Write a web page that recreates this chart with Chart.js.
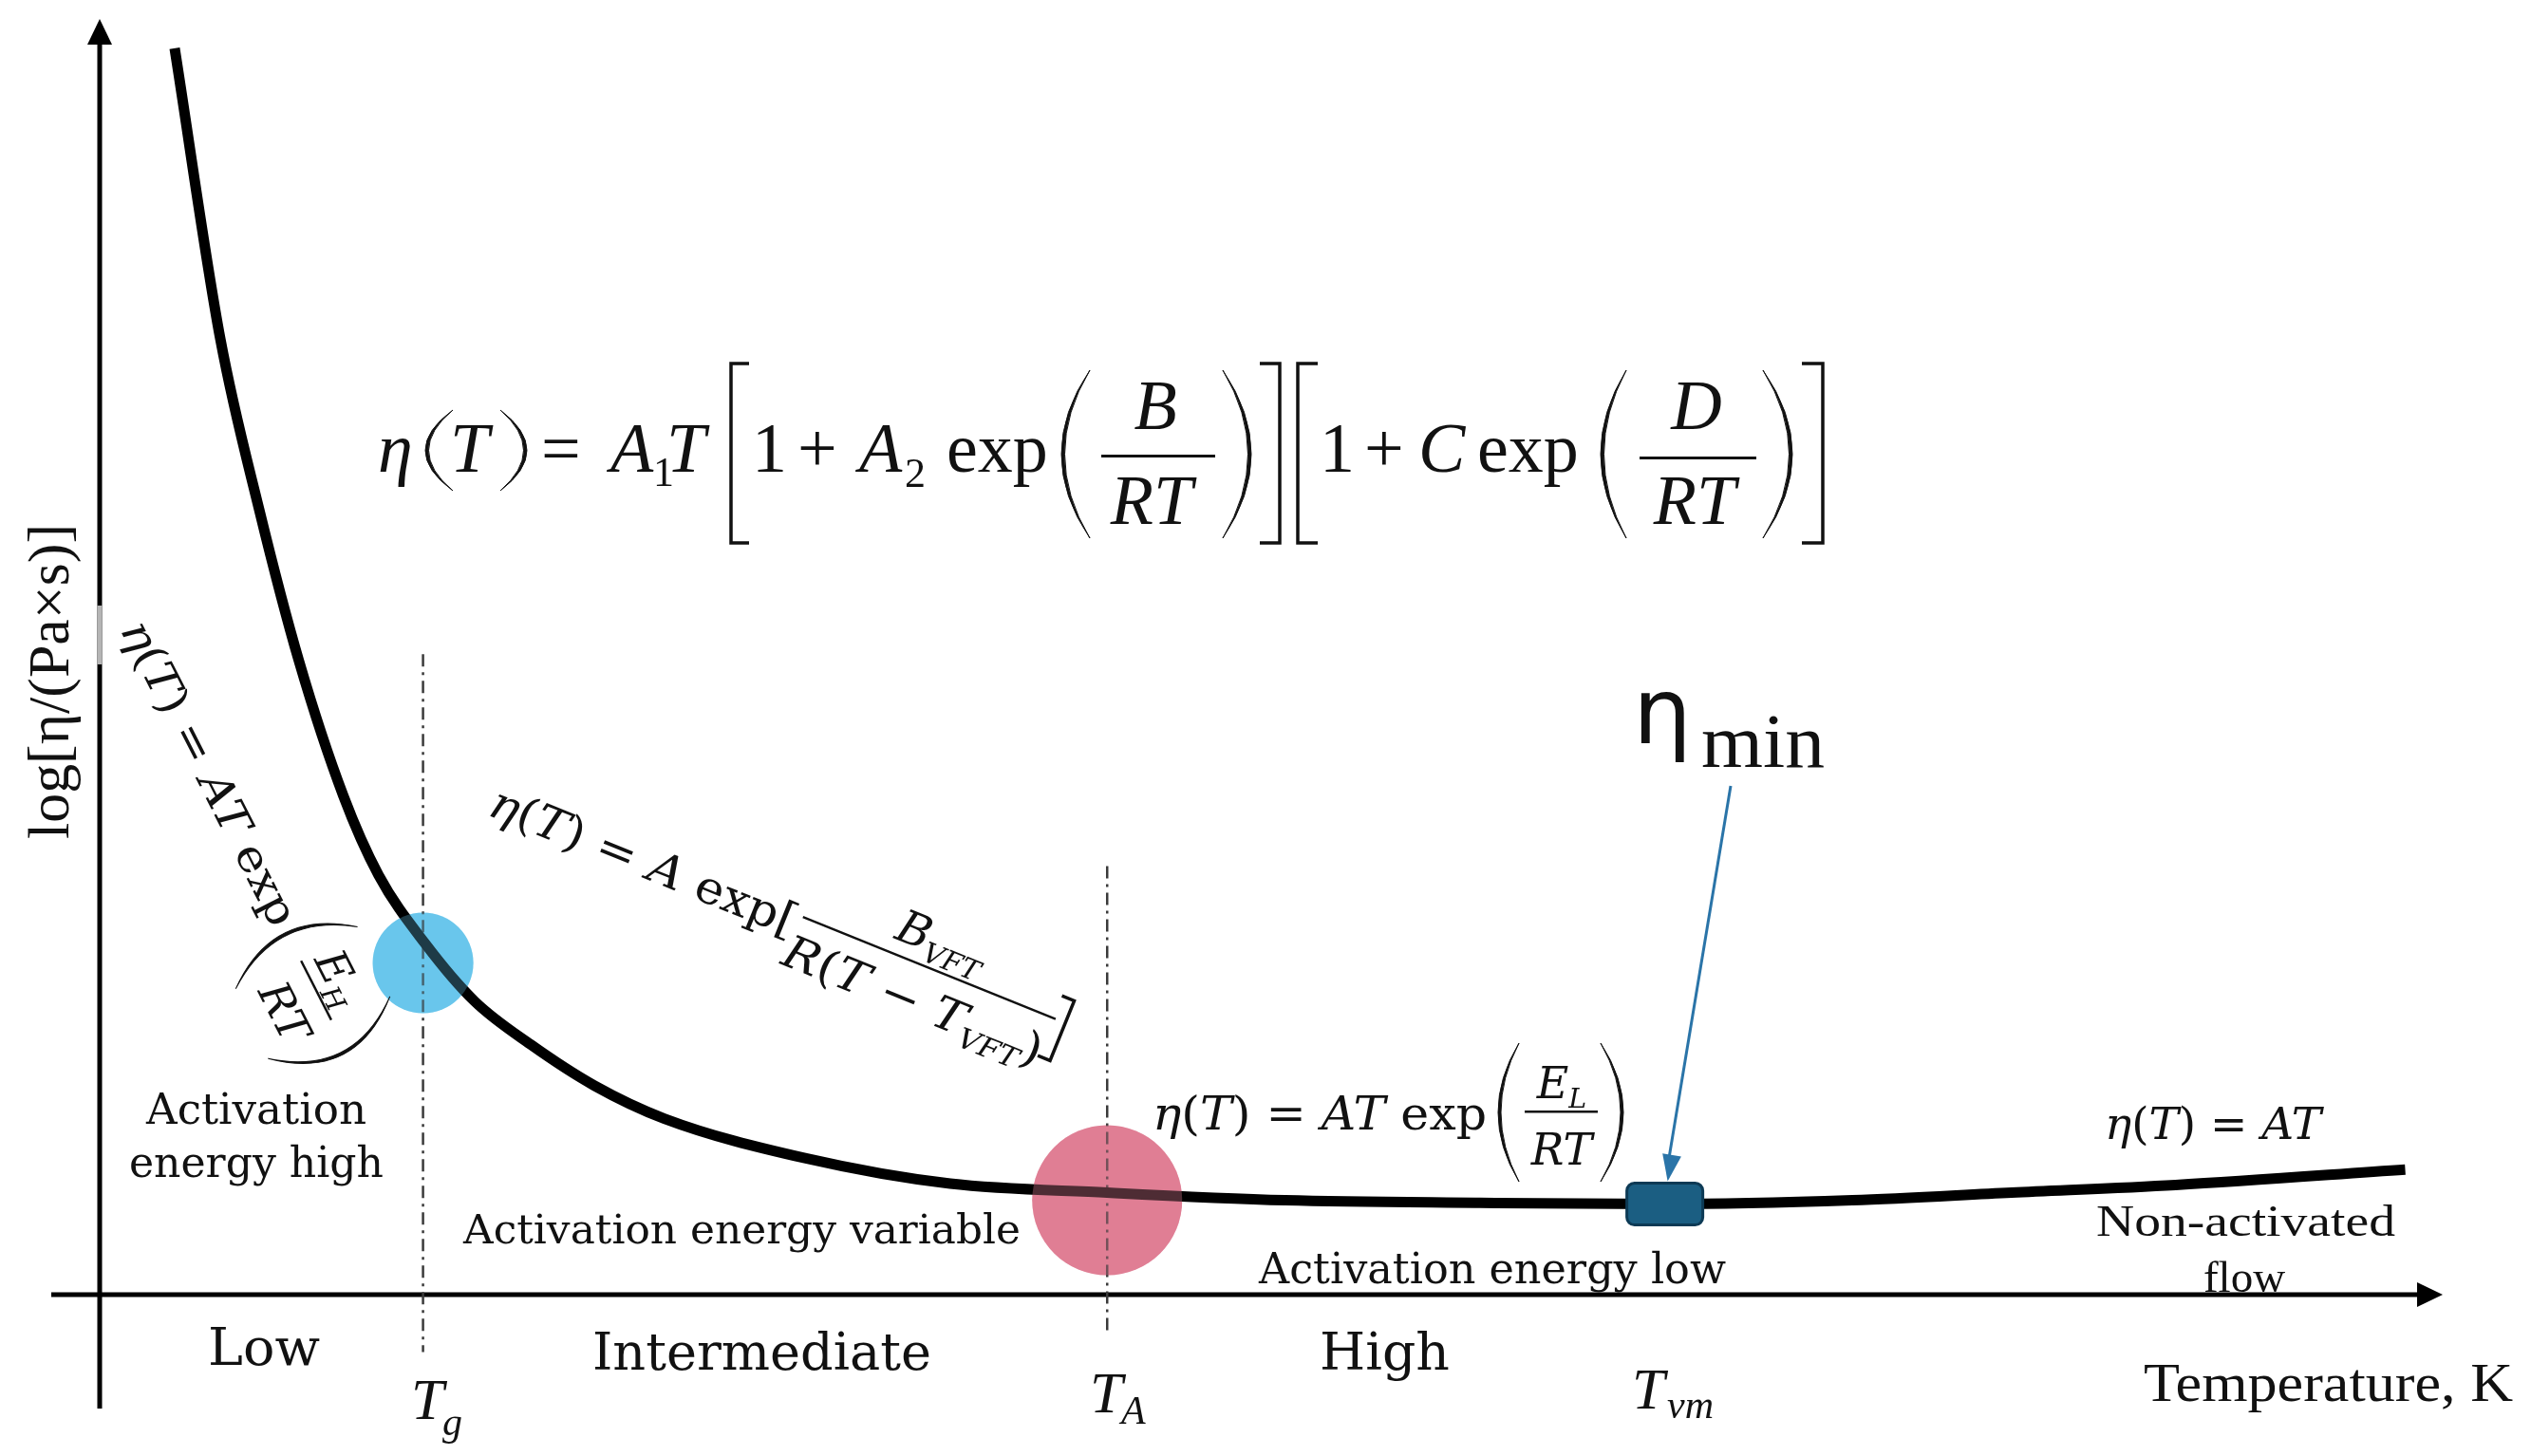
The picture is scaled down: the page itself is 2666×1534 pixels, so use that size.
<!DOCTYPE html>
<html>
<head>
<meta charset="utf-8">
<title>Viscosity vs temperature</title>
<script src="https://cdn.jsdelivr.net/npm/chart.js@4.4.1/dist/chart.umd.min.js"></script>
<style>
  html, body { margin: 0; padding: 0; background: #fff; }
  #wrap { width: 2666px; height: 1534px; }
</style>
</head>
<body>
<div id="wrap"><canvas id="chart" width="2666" height="1534"></canvas></div>
<script>
// ===== Data (arbitrary units: T 0..100 along the axis, log eta 0..100) =====
const temperature = [3.2, 5.15, 6.8, 8.5, 10.4, 11.9, 13.9, 16.0, 18.4, 21.1, 24.1, 30.1, 36.3, 43.0, 50.6, 58.9, 66.7, 74.8, 81.6, 88.6, 98.4];
const logViscosity = [97.7, 74.9, 61.6, 49.7, 39.1, 32.9, 27.5, 23.0, 19.6, 16.4, 13.8, 10.7, 8.7, 8.0, 7.4, 7.2, 7.1, 7.4, 8.0, 8.6, 9.8];

// Tg, TA, Tvm
const transitionTemps = [13.8, 43.0, 66.8];
const transitionLogVisc = [26.0, 7.4, 7.1];
const guideTop = [50.2, 33.6];
const guideBottom = [-4.5, -3.0];

const SERIF = '"DejaVu Serif", serif';
const TIMES = '"Liberation Serif", "Times New Roman", serif';
const SANS = '"DejaVu Sans", sans-serif';

// ===== Text helpers =====
function setFont(ctx, size, fam, italic) {
  ctx.font = (italic ? 'italic ' : '') + size + 'px ' + fam;
}

function runWidth(ctx, parts, size, fam) {
  let w = 0;
  parts.forEach(([t, f = '']) => {
    setFont(ctx, f.includes('s') ? size * 0.62 : size, fam, f.includes('i'));
    w += ctx.measureText(t).width;
  });
  return w;
}

// parts: [text, flags]  flags: i = italic, s = subscript
function drawRun(ctx, parts, x, y, size, fam, width, align) {
  const w0 = runWidth(ctx, parts, size, fam);
  const k = width ? width / w0 : 1;
  const w = w0 * k;
  const x0 = align === 'center' ? x - w / 2 : x;
  ctx.save();
  ctx.translate(x0, y);
  ctx.scale(k, 1);
  ctx.textAlign = 'left';
  ctx.textBaseline = 'alphabetic';
  let cx = 0;
  parts.forEach(([t, f = '']) => {
    const sub = f.includes('s');
    setFont(ctx, sub ? size * 0.62 : size, fam, f.includes('i'));
    ctx.fillText(t, cx, sub ? size * 0.22 : 0);
    cx += ctx.measureText(t).width;
  });
  ctx.restore();
  return w;
}

function paren(ctx, xEnd, xMid, top, bot, thick) {
  const mid = (top + bot) / 2;
  const dir = Math.sign(xMid - xEnd);
  const c1 = 2 * xMid - xEnd;
  const c2 = 2 * (xMid - dir * thick) - xEnd;
  ctx.beginPath();
  ctx.moveTo(xEnd, top);
  ctx.quadraticCurveTo(c1, mid, xEnd, bot);
  ctx.quadraticCurveTo(c2, mid, xEnd, top);
  ctx.closePath();
  ctx.fill();
  ctx.lineWidth = 1;
  ctx.stroke();
}

function bracket(ctx, xv, xs, top, bot) {
  ctx.lineWidth = 3.5;
  ctx.beginPath();
  ctx.moveTo(xs, top);
  ctx.lineTo(xv, top);
  ctx.lineTo(xv, bot);
  ctx.lineTo(xs, bot);
  ctx.stroke();
}

function arrowHead(ctx, tipX, tipY, fromX, fromY, len, half) {
  const a = Math.atan2(tipY - fromY, tipX - fromX);
  ctx.beginPath();
  ctx.moveTo(tipX, tipY);
  ctx.lineTo(tipX - len * Math.cos(a) + half * Math.sin(a), tipY - len * Math.sin(a) - half * Math.cos(a));
  ctx.lineTo(tipX - len * Math.cos(a) - half * Math.sin(a), tipY - len * Math.sin(a) + half * Math.cos(a));
  ctx.closePath();
  ctx.fill();
}

// ===== Plugin: axes, guides, box, labels =====
const diagramPlugin = {
  id: 'diagram',
  beforeDatasetsDraw(chart) {
    const ctx = chart.ctx;
    const { left, bottom } = chart.chartArea;
    ctx.save();
    ctx.strokeStyle = '#000';
    ctx.fillStyle = '#000';
    ctx.lineWidth = 5;
    ctx.beginPath();
    ctx.moveTo(left, 1484);
    ctx.lineTo(left, 44);
    ctx.moveTo(54, bottom);
    ctx.lineTo(2548, bottom);
    ctx.stroke();
    arrowHead(ctx, left, 20, left, 100, 27, 13);
    arrowHead(ctx, 2573, bottom, 2400, bottom, 27, 13);
    // faint segment on y axis
    ctx.strokeStyle = '#b5b5b5';
    ctx.beginPath();
    ctx.moveTo(left, 638);
    ctx.lineTo(left, 700);
    ctx.stroke();
    ctx.restore();
  },
  afterDatasetDraw(chart, args) {
    if (args.index !== 2) return;
    const ctx = chart.ctx;
    const xs = chart.scales.x, ys = chart.scales.y;
    ctx.save();
    ctx.strokeStyle = '#3a3a3a';
    ctx.lineWidth = 2.5;
    ctx.setLineDash([13, 6, 3, 6]);
    guideTop.forEach((top, i) => {
      const px = xs.getPixelForValue(transitionTemps[i]);
      ctx.beginPath();
      ctx.moveTo(px, ys.getPixelForValue(top));
      ctx.lineTo(px, ys.getPixelForValue(guideBottom[i]));
      ctx.stroke();
    });
    ctx.restore();
  },
  afterDatasetsDraw(chart) {
    const ctx = chart.ctx;
    const xs = chart.scales.x, ys = chart.scales.y;
    ctx.save();

    // eta_min box
    const bx = xs.getPixelForValue(transitionTemps[2]);
    const by = ys.getPixelForValue(transitionLogVisc[2]);
    ctx.fillStyle = '#1b5e82';
    ctx.strokeStyle = '#0d3a55';
    ctx.lineWidth = 3;
    ctx.beginPath();
    ctx.roundRect(bx - 40, by - 22, 80, 44, 8);
    ctx.fill();
    ctx.stroke();

    // arrow to the box
    ctx.strokeStyle = '#2a74a8';
    ctx.fillStyle = '#2a74a8';
    ctx.lineWidth = 3;
    ctx.beginPath();
    ctx.moveTo(1823, 828);
    ctx.lineTo(bx + 3, by - 40);
    ctx.stroke();
    arrowHead(ctx, bx + 3, by - 24, 1823, 828, 28, 10);

    ctx.fillStyle = '#111';
    ctx.strokeStyle = '#111';

    // eta_min label
    drawRun(ctx, [['η']], 1720, 783, 96, SANS, 62);
    drawRun(ctx, [['min']], 1792, 808, 80, TIMES, 130);

    // top equation
    const B = 497;
    drawRun(ctx, [['η', 'i']], 398, B, 74, TIMES);
    paren(ctx, 477, 448, 432, 517, 3.5);
    drawRun(ctx, [['T', 'i']], 474, B, 74, TIMES);
    paren(ctx, 527, 555, 432, 517, 3.5);
    drawRun(ctx, [['=']], 570, B, 74, TIMES);
    drawRun(ctx, [['A', 'i']], 643, B, 74, TIMES);
    drawRun(ctx, [['1']], 688, 512, 44, TIMES);
    drawRun(ctx, [['T', 'i']], 702, B, 74, TIMES);
    bracket(ctx, 770, 789, 383, 572);
    drawRun(ctx, [['1']], 792, B, 74, TIMES);
    drawRun(ctx, [['+']], 840, B, 74, TIMES);
    drawRun(ctx, [['A', 'i']], 905, B, 74, TIMES);
    drawRun(ctx, [['2']], 953, 513, 44, TIMES);
    drawRun(ctx, [['exp']], 997, B, 74, TIMES);
    paren(ctx, 1148, 1118, 390, 567, 3.5);
    ctx.fillRect(1160, 479, 120, 3);
    drawRun(ctx, [['B', 'i']], 1217, 452, 74, TIMES, null, 'center');
    drawRun(ctx, [['RT', 'i']], 1213, 552, 74, TIMES, null, 'center');
    paren(ctx, 1288, 1318, 390, 567, 3.5);
    bracket(ctx, 1348, 1327, 383, 572);
    bracket(ctx, 1367, 1388, 383, 572);
    drawRun(ctx, [['1']], 1390, B, 74, TIMES);
    drawRun(ctx, [['+']], 1437, B, 74, TIMES);
    drawRun(ctx, [['C', 'i']], 1494, B, 74, TIMES);
    drawRun(ctx, [['exp']], 1556, B, 74, TIMES);
    paren(ctx, 1713, 1686, 390, 567, 3.5);
    ctx.fillRect(1727, 481, 123, 3);
    drawRun(ctx, [['D', 'i']], 1787, 452, 74, TIMES, null, 'center');
    drawRun(ctx, [['RT', 'i']], 1785, 552, 74, TIMES, null, 'center');
    paren(ctx, 1857, 1888, 390, 567, 3.5);
    bracket(ctx, 1920, 1898, 383, 572);

    // rotated Arrhenius (high) label
    ctx.save();
    ctx.translate(126, 663);
    ctx.rotate(63 * Math.PI / 180);
    drawRun(ctx, [['η', 'i'], ['('], ['T', 'i'], [') = '], ['AT', 'i'], [' exp']], 0, 0, 46, SERIF, 355);
    paren(ctx, 393, 364, -81, 63, 3);
    paren(ctx, 474, 506, -78, 66, 3);
    ctx.fillRect(398, -13, 70, 2.5);
    drawRun(ctx, [['E', 'i'], ['H', 'is']], 432, -24, 46, SERIF, null, 'center');
    drawRun(ctx, [['RT', 'i']], 438, 44, 46, SERIF, null, 'center');
    ctx.restore();

    // rotated VFT label
    ctx.save();
    ctx.translate(512, 858);
    ctx.rotate(22 * Math.PI / 180);
    drawRun(ctx, [['η', 'i'], ['('], ['T', 'i'], [') = '], ['A', 'i'], [' exp[']], 0, 0, 48, SERIF, 345);
    ctx.fillRect(350, -26, 287, 2.5);
    drawRun(ctx, [['B', 'i'], ['VFT', 'is']], 495, -40, 48, SERIF, null, 'center');
    drawRun(ctx, [['R', 'i'], ['('], ['T', 'i'], [' − '], ['T', 'i'], ['VFT', 'is'], [')']], 345, 30, 48, SERIF, 291);
    bracket(ctx, 648, 634, -50, 18);
    ctx.restore();

    // Arrhenius (low) label
    drawRun(ctx, [['η', 'i'], ['('], ['T', 'i'], [') = '], ['AT', 'i'], [' exp']], 1214, 1190, 48, SERIF, 352);
    paren(ctx, 1600, 1578, 1099, 1245, 3);
    paren(ctx, 1686, 1710, 1099, 1245, 3);
    ctx.fillRect(1606, 1170, 77, 2.5);
    drawRun(ctx, [['E', 'i'], ['L', 'is']], 1645, 1157, 46, SERIF, null, 'center');
    drawRun(ctx, [['RT', 'i']], 1645, 1227, 46, SERIF, null, 'center');

    // non-activated label
    drawRun(ctx, [['η', 'i'], ['('], ['T', 'i'], [') = '], ['AT', 'i']], 2217, 1200, 46, SERIF, 228);

    // region texts
    drawRun(ctx, [['Activation']], 270, 1184, 45, SERIF, 232, 'center');
    drawRun(ctx, [['energy high']], 270, 1240, 45, SERIF, 268, 'center');
    drawRun(ctx, [['Activation energy variable']], 488, 1310, 42, SERIF, 587);
    drawRun(ctx, [['Activation energy low']], 1326, 1352, 44, SERIF, 492);
    drawRun(ctx, [['Non-activated']], 2208, 1302, 47, TIMES, 315);
    drawRun(ctx, [['flow']], 2364, 1361, 47, TIMES, null, 'center');

    // x-axis texts
    drawRun(ctx, [['Low']], 219, 1438, 54, SERIF, 118);
    drawRun(ctx, [['Intermediate']], 624, 1443, 54, SERIF, 357);
    drawRun(ctx, [['High']], 1390, 1443, 54, SERIF, 137);
    drawRun(ctx, [['Temperature, K']], 2258, 1476, 56, TIMES, 389);
    drawRun(ctx, [['T', 'i']], 433, 1495, 62, TIMES);
    drawRun(ctx, [['g', 'i']], 466, 1512, 42, TIMES);
    drawRun(ctx, [['T', 'i']], 1148, 1488, 62, TIMES);
    drawRun(ctx, [['A', 'i']], 1181, 1500, 42, TIMES);
    drawRun(ctx, [['T', 'i']], 1719, 1484, 62, TIMES);
    drawRun(ctx, [['vm', 'i']], 1756, 1494, 42, TIMES);

    // y-axis title
    ctx.save();
    ctx.translate(72, 718);
    ctx.rotate(-Math.PI / 2);
    drawRun(ctx, [['log[η/(Pa×s)]']], 0, 0, 62, TIMES, 332, 'center');
    ctx.restore();

    ctx.restore();
  }
};

// ===== Chart =====
const curve = temperature.map((t, i) => ({ x: t, y: logViscosity[i] }));
const markers = transitionTemps.slice(0, 2).map((t, i) => ({ x: t, y: transitionLogVisc[i] }));

new Chart(document.getElementById('chart'), {
  type: 'line',
  data: {
    datasets: [
      {
        label: 'overlay',
        data: markers,
        showLine: false,
        order: 0,
        pointRadius: [53, 79],
        pointBorderWidth: 0,
        pointBackgroundColor: ['rgba(99,197,234,0.3)', 'rgba(224,126,148,0.35)'],
        clip: false
      },
      {
        label: 'log η',
        data: curve,
        order: 1,
        borderColor: '#000',
        borderWidth: 11,
        borderCapStyle: 'butt',
        borderJoinStyle: 'round',
        cubicInterpolationMode: 'monotone',
        pointRadius: 0,
        fill: false,
        clip: false
      },
      {
        label: 'base',
        data: markers,
        showLine: false,
        order: 2,
        pointRadius: [53, 79],
        pointBorderWidth: 0,
        pointBackgroundColor: ['#6cc8ec', '#e07e94'],
        clip: false
      }
    ]
  },
  options: {
    responsive: false,
    animation: false,
    events: [],
    layout: { autoPadding: false, padding: { left: 105, right: 93, top: 20, bottom: 170 } },
    scales: {
      x: { type: 'linear', min: 0, max: 100, display: false },
      y: { type: 'linear', min: 0, max: 100, display: false }
    },
    plugins: { legend: { display: false }, tooltip: { enabled: false } }
  },
  plugins: [diagramPlugin]
});
</script>
</body>
</html>
